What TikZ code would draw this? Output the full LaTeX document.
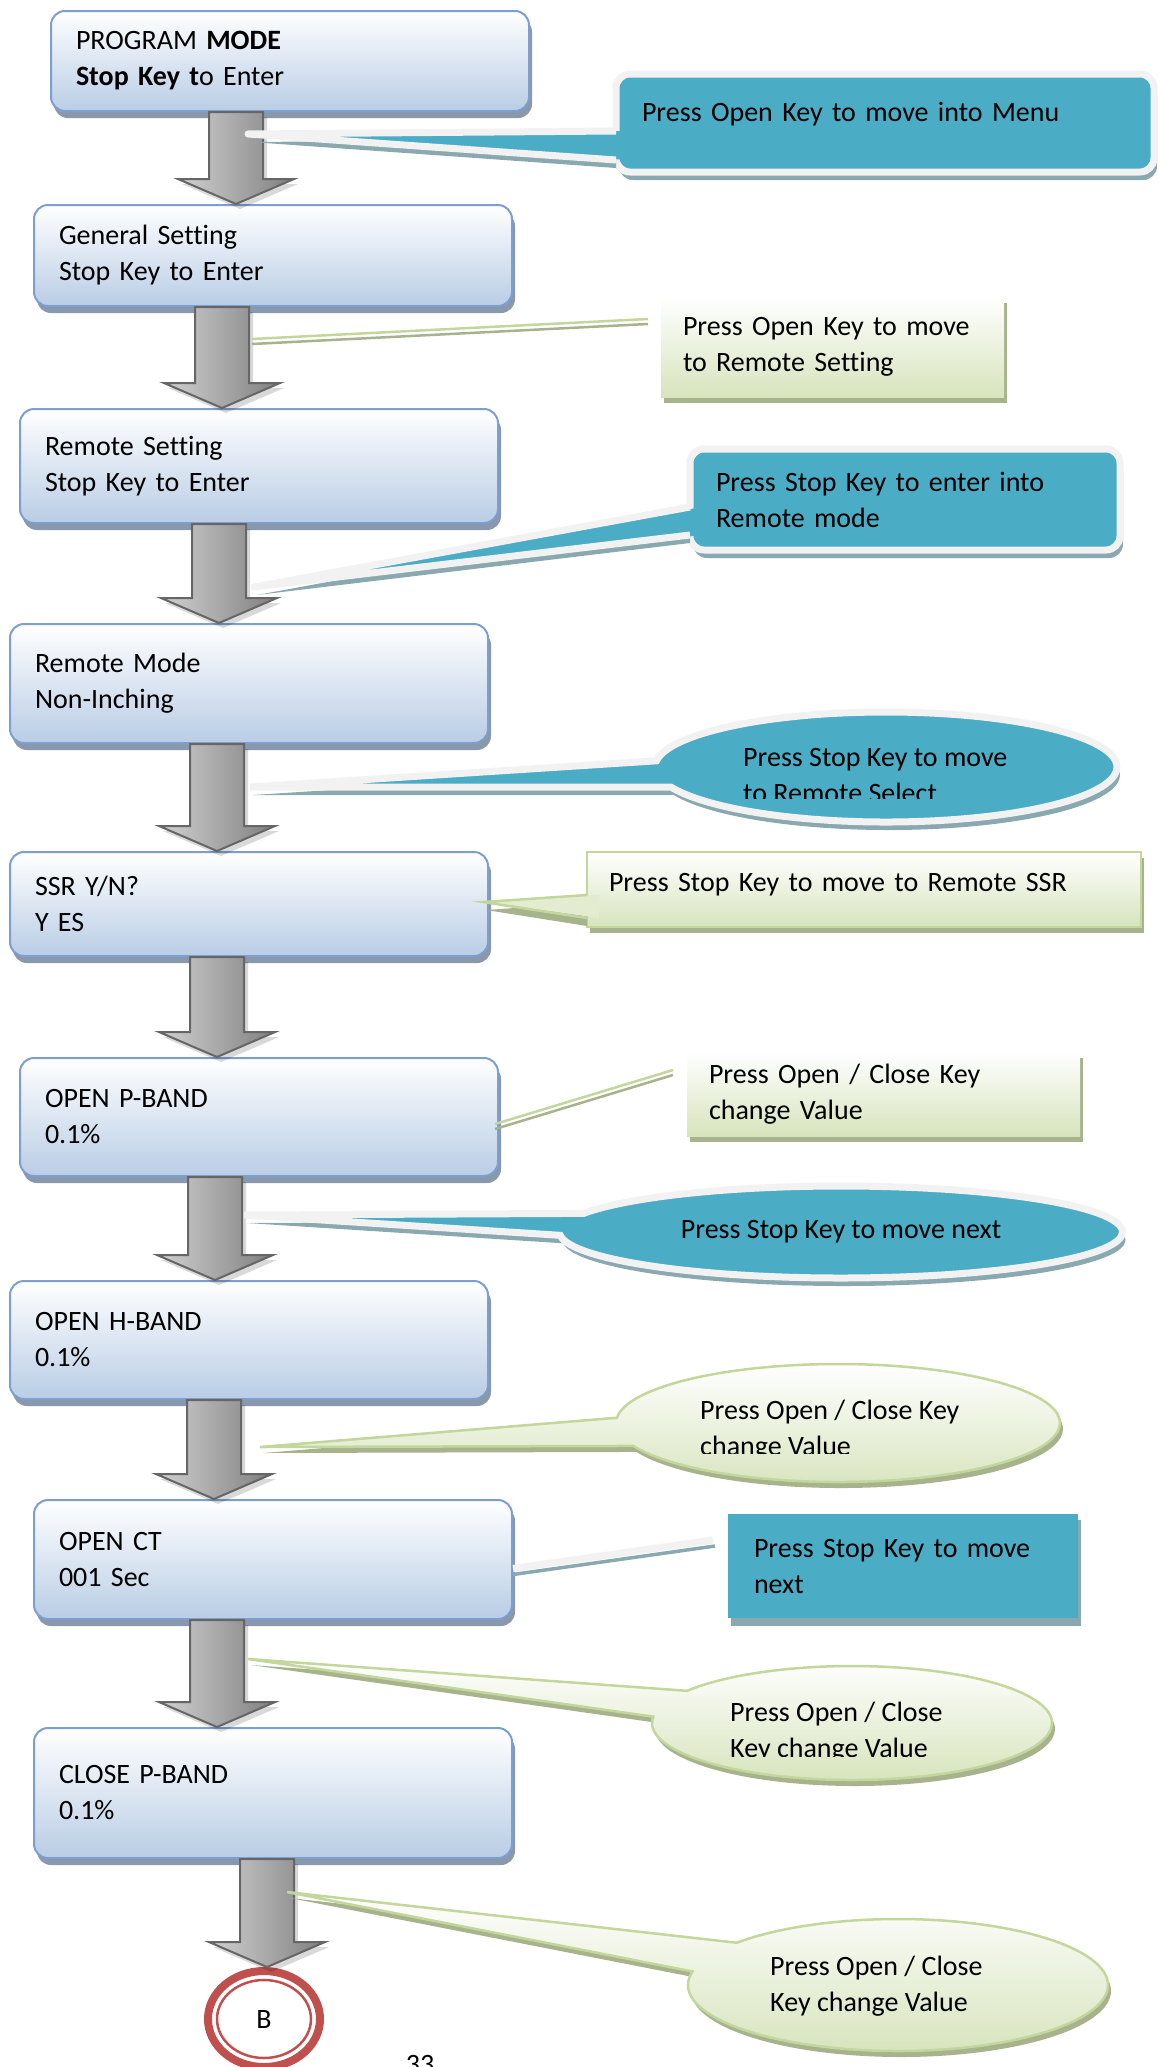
\documentclass[tikz,border=0pt]{standalone}
\usepackage{fontspec}
\setmainfont{Carlito}[Ligatures=NoCommon]
\usetikzlibrary{shadows,shapes.callouts,shapes.geometric,calc}

\definecolor{boxblue}{RGB}{185,205,229}
\definecolor{boxline}{RGB}{125,158,208}
\definecolor{boxshade}{RGB}{138,152,172}
\definecolor{noteteal}{RGB}{75,172,198}
\definecolor{tealshade}{RGB}{138,168,176}
\definecolor{noterim}{RGB}{242,242,242}
\definecolor{notegreen}{RGB}{215,228,189}
\definecolor{greenline}{RGB}{195,214,155}
\definecolor{greenshade}{RGB}{166,179,140}
\definecolor{ringred}{RGB}{192,80,77}

\tikzset{
  menubox/.style={rectangle, rounded corners=14pt, draw=boxline, line width=2pt,
    top color=white, bottom color=boxblue, anchor=north west, inner xsep=25pt,
    text width=428pt, align=left, minimum width=478pt,
    drop shadow={shadow xshift=3pt, shadow yshift=-7pt, fill=boxshade, opacity=1}},
  flowarr/.style={draw=black!60, line width=2pt, left color=black!18, right color=black!50,
    drop shadow={shadow xshift=4pt, shadow yshift=-5pt, fill=black, opacity=.15}},
  tealnote/.style={rectangle, fill=noteteal, anchor=north west, align=left,
    inner xsep=26pt, outer sep=0pt,
    drop shadow={shadow xshift=3pt, shadow yshift=-8pt, fill=tealshade, opacity=1}},
  tealrim/.style={draw=noterim, line width=7pt},
  greennote/.style={rectangle, top color=white, bottom color=notegreen, anchor=north west,
    align=left, inner xsep=22pt, outer sep=0pt,
    drop shadow={shadow xshift=3pt, shadow yshift=-6pt, fill=greenshade, opacity=1}},
  tealoval/.style={ellipse callout, fill=noteteal, draw=noterim, line width=7pt,
    inner sep=0pt, callout pointer arc=28,
    drop shadow={shadow xshift=3pt, shadow yshift=-8pt, fill=tealshade, opacity=1}},
  greenoval/.style={ellipse callout, top color=white, bottom color=notegreen,
    draw=greenline, line width=2.5pt, inner sep=0pt, callout pointer arc=28,
    drop shadow={shadow xshift=3pt, shadow yshift=-6pt, fill=greenshade, opacity=1}},
  notetext/.style={anchor=base west, align=left, inner sep=0pt}
}

% block arrow between two boxes, #1 = x of its axis
\newcommand\flowarrow[3]{%
  \path[flowarr] let \p1=(#2.south), \p2=(#3.north) in
    (#1pt-27pt,\y1) -- (#1pt+27pt,\y1) -- (#1pt+27pt,\y2+25pt) -- (#1pt+58pt,\y2+25pt)
    -- (#1pt,\y2) -- (#1pt-58pt,\y2+25pt) -- (#1pt-27pt,\y2+25pt) -- cycle;}

% wedge of a note: #1 note, #2 tip, #3 and #4 y of its base
\newcommand\notewedge[6]{%
  \fill[#6] ($(#2)+(3,8)$) -- ($(#1.west |- 0,#3)+(0,8)$) -- ($(#1.west |- 0,#4)+(0,8)$) -- cycle;
  \fill[#5] (#2) -- ($(#1.west |- 0,#3)+(12,0)$) -- ($(#1.west |- 0,#4)+(12,0)$) -- cycle;}

\newcommand\twinline[2]{%
  \draw[greenline, line width=2.5pt] (#1) -- (#2);
  \draw[greenshade, line width=2.5pt] ($(#1)+(0,5)$) -- ($(#2)+(0,5)$);}

\begin{document}
\begin{tikzpicture}[x=1pt, y=-1pt, every node/.style={font=\fontsize{28}{36}\selectfont}]
\useasboundingbox (0,0) rectangle (1161,2067);

% Boxes of the menu
\node[menubox, minimum height=100pt] (prog) at (50,10) {PROGRAM \textbf{MODE}\\\textbf{Stop Key t}o Enter};
\node[menubox, minimum height=101pt] (gen) at (33,204) {General Setting\\Stop Key to Enter};
\node[menubox, minimum height=114pt] (remset) at (19,408) {Remote Setting\\Stop Key to Enter};
\node[menubox, minimum height=119pt] (remmode) at (9,623) {Remote Mode\\Non-Inching};
\node[menubox, minimum height=104pt] (ssr) at (9,851) {SSR Y/N?\\Y ES};
\node[menubox, minimum height=118pt] (openp) at (19,1057) {OPEN P-BAND\\0.1\%};
\node[menubox, minimum height=118pt] (openh) at (9,1280) {OPEN H-BAND\\0.1\%};
\node[menubox, minimum height=119pt] (openct) at (33,1499) {OPEN CT\\001 Sec};
\node[menubox, minimum height=130pt] (closep) at (33,1727) {CLOSE P-BAND\\0.1\%};
\node[ellipse, draw=ringred, line width=8pt, minimum width=112pt, minimum height=96pt] (endB) at (264,2019) {B};
\draw[ringred, line width=2.5pt] (endB.center) ellipse (47pt and 39pt);
\node[anchor=base] (pgno) at (420,2073) {33};

% Arrows
\flowarrow{236}{prog}{gen}
\flowarrow{222}{gen}{remset}
\flowarrow{219}{remset}{remmode}
\flowarrow{217}{remmode}{ssr}
\flowarrow{217}{ssr}{openp}
\flowarrow{215}{openp}{openh}
\flowarrow{214}{openh}{openct}
\flowarrow{217}{openct}{closep}
\flowarrow{267}{closep}{endB}

% Notes
\coordinate (p1) at (248,134);
\node[tealnote, tealrim, rounded corners=14pt, minimum width=538pt, minimum height=98pt, text width=486pt] (c1) at (616,74) {Press Open Key to move into Menu\rule[-22pt]{0pt}{0pt}};
\notewedge{c1}{p1}{131}{160}{noteteal}{tealshade}
\draw[tealrim, line join=round] (c1.west |- 0,131) -- (p1) -- (c1.west |- 0,160);

\node[greennote, minimum width=343pt, minimum height=100pt, text width=299pt] (c2) at (661,297) {Press Open Key to move\\to Remote Setting};
\coordinate (p2) at (252,339);
\twinline{p2}{[xshift=-13pt,yshift=28pt]c2.west}

\coordinate (p3) at (254,587);
\node[tealnote, tealrim, rounded corners=14pt, minimum width=430pt, minimum height=101pt, text width=378pt] (c3) at (690,449) {Press Stop Key to enter into\\Remote mode};
\notewedge{c3}{p3}{507}{535}{noteteal}{tealshade}
\draw[tealrim, line join=round] (c3.west |- 0,507) -- (p3) -- (c3.west |- 0,535);

\coordinate (p4) at (250,787);
\node[tealoval, minimum width=462pt, minimum height=110pt, callout absolute pointer={(p4)}] (c4) at (886,767) {};
\begin{scope}
  \clip (640,700) rectangle (1130,798);
  \node[notetext] (t4) at (743,802) {Press Stop Key to move\\to Remote Select};
\end{scope}

\coordinate (p5) at (483,902);
\node[greennote, draw=greenline, line width=2.5pt, minimum width=554pt, minimum height=75pt, text width=510pt] (c5) at (587,852) {Press Stop Key to move to Remote SSR\rule[-14pt]{0pt}{0pt}};
\notewedge{c5}{p5}{895}{918}{notegreen!70!white}{greenshade}
\draw[greenline, line width=2.5pt] (c5.west |- 0,895) -- (p5) -- (c5.west |- 0,918);

\node[greennote, minimum width=393pt, minimum height=84pt, text width=349pt] (c6) at (687,1052) {Press Open / Close Key\\change Value};
\coordinate (p6) at ([xshift=-4pt,yshift=-7pt]openp.east);
\twinline{p6}{[xshift=-14pt,yshift=24pt]c6.west}

\coordinate (p7) at (244,1215);
\node[tealoval, minimum width=563pt, minimum height=92pt, callout absolute pointer={(p7)}] (c7) at (841,1232) {Press Stop Key to move next};

\coordinate (p8) at (260,1447);
\node[greenoval, minimum width=444pt, minimum height=118pt, callout absolute pointer={(p8)}] (c8) at (838,1423) {};
\begin{scope}
  \clip (600,1360) rectangle (1070,1453);
  \node[notetext] (t8) at (700,1455) {Press Open / Close Key\\change Value};
\end{scope}

\node[tealnote, minimum width=350pt, minimum height=104pt, text width=298pt,
  drop shadow={shadow xshift=3pt, shadow yshift=-6pt, fill=tealshade, opacity=1}] (c9) at (728,1514) {Press Stop Key to move\\next};
\draw[noterim, line width=7pt] ([yshift=-9pt]openct.east) -- ([xshift=-15pt,yshift=26pt]c9.west);
\draw[tealshade, line width=3.5pt] ([yshift=-15pt]openct.east) -- ([xshift=-13pt,yshift=20pt]c9.west);

\coordinate (p10) at (248,1659);
\node[greenoval, minimum width=400pt, minimum height=114pt, callout absolute pointer={(p10)}] (c10) at (852,1723) {};
\begin{scope}
  \clip (640,1660) rectangle (1060,1756);
  \node[notetext] (t10) at (730,1757) {Press Open / Close\\Key change Value};
\end{scope}

\coordinate (p11) at (287,1892);
\node[greenoval, minimum width=420pt, minimum height=132pt, callout absolute pointer={(p11)}] (c11) at (898,1985) {};
\node[notetext] (t11) at (770,2011) {Press Open / Close\\Key change Value};
\end{tikzpicture}
\end{document}
